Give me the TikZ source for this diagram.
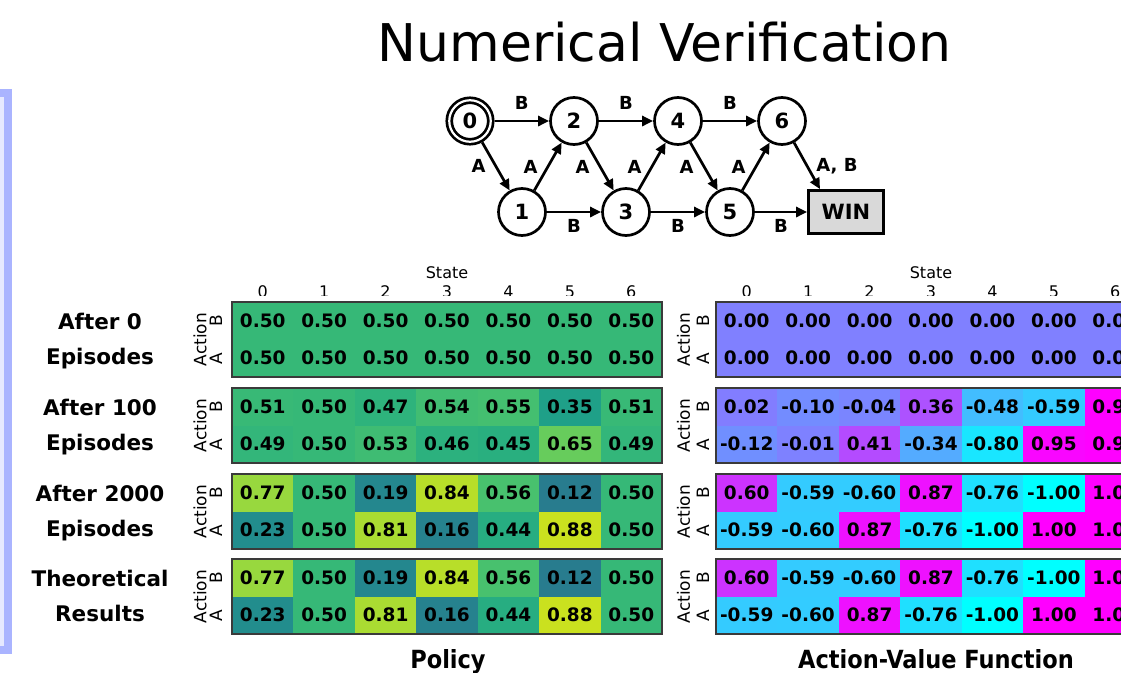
\documentclass[tikz,border=0pt]{standalone}
\usepackage{fontspec}
\setmainfont{DejaVu Sans}
\newfontfamily\condfont{DejaVu Sans Condensed}
\usetikzlibrary{arrows.meta}
\definecolor{panelborder}{HTML}{AAB4FF}
\definecolor{panelfill}{HTML}{E6E9FF}
\definecolor{boxline}{HTML}{3A3A3A}
\definecolor{winfill}{HTML}{D9D9D9}
\definecolor{qlo}{rgb}{0,1,1}
\definecolor{qhi}{rgb}{1,0,1}
\definecolor{pv50}{HTML}{36B877}
\definecolor{pv51}{HTML}{38B976}
\definecolor{pv49}{HTML}{33B67A}
\definecolor{pv47}{HTML}{2EB37C}
\definecolor{pv53}{HTML}{3FBC73}
\definecolor{pv54}{HTML}{41BD72}
\definecolor{pv46}{HTML}{2CB17E}
\definecolor{pv55}{HTML}{44BF70}
\definecolor{pv45}{HTML}{29AF7F}
\definecolor{pv35}{HTML}{1FA088}
\definecolor{pv65}{HTML}{67CC5C}
\definecolor{pv77}{HTML}{98D83E}
\definecolor{pv23}{HTML}{228D8D}
\definecolor{pv19}{HTML}{24878E}
\definecolor{pv81}{HTML}{AADC32}
\definecolor{pv84}{HTML}{B8DE29}
\definecolor{pv16}{HTML}{26828E}
\definecolor{pv56}{HTML}{48C16E}
\definecolor{pv44}{HTML}{27AD81}
\definecolor{pv12}{HTML}{287C8E}
\definecolor{pv88}{HTML}{CAE11F}
\tikzset{
  state/.style={circle, draw=black, line width=2.7pt, minimum size=47pt, inner sep=0pt, fill=white, font=\bfseries\fontsize{21}{23}\selectfont},
  startstate/.style={state, double, double distance=2.2pt, minimum size=41.5pt, outer sep=3.8pt},
  winbox/.style={rectangle, draw=black, line width=2.7pt, fill=winfill, minimum width=75pt, minimum height=43pt, inner sep=0pt, font=\bfseries\fontsize{21}{23}\selectfont},
  edge/.style={line width=2.7pt, -{Triangle[length=11pt,width=10pt]}},
  elabel/.style={font=\bfseries\fontsize{18}{19}\selectfont, inner sep=0pt},
  cell/.style={rectangle, minimum width=61.43pt, minimum height=37.5pt, inner sep=0pt, font=\bfseries\fontsize{18.5}{19}\selectfont},
  heatframe/.style={draw=boxline, line width=1.5pt},
  axislabel/.style={font=\fontsize{16}{17}\selectfont, inner sep=0pt},
  rowlabel/.style={font=\bfseries\fontsize{21.5}{23}\selectfont, inner sep=0pt, anchor=base},
  sidelabel/.style={font=\fontsize{17}{18}\selectfont, inner sep=0pt, rotate=90},
  footlabel/.style={font=\condfont\bfseries\fontsize{25}{28}\selectfont, inner sep=0pt, anchor=base},
}
% policy box: #1 top, #2 prefix, #3 B list, #4 A list
\newcommand\polbox[4]{%
  \foreach \v [count=\i from 0] in {#3} {
    \node[cell, fill=pv\v] (#2B\i) at ({232+61.43*(\i+0.5)}, {#1+18.75}) {0.\v};
  }
  \foreach \v [count=\i from 0] in {#4} {
    \node[cell, fill=pv\v] (#2A\i) at ({232+61.43*(\i+0.5)}, {#1+56.25}) {0.\v};
  }
  \draw[heatframe] (232,#1) rectangle (662,{#1+75});
  \node[sidelabel] (#2act) at (200,{#1+37.5}) {Action};
  \node[sidelabel] (#2lb) at (216,{#1+18.75}) {B};
  \node[sidelabel] (#2la) at (216,{#1+56.25}) {A};
}
% action-value box
\newcommand\qbox[4]{%
  \foreach \v [count=\i from 0] in {#3} {
    \pgfmathsetmacro\pp{50*(\v+1)}
    \node[cell, fill=qhi!\pp!qlo] (#2B\i) at ({716+61.43*(\i+0.5)}, {#1+18.75}) {\v};
  }
  \foreach \v [count=\i from 0] in {#4} {
    \pgfmathsetmacro\pp{50*(\v+1)}
    \node[cell, fill=qhi!\pp!qlo] (#2A\i) at ({716+61.43*(\i+0.5)}, {#1+56.25}) {\v};
  }
  \draw[heatframe] (716,#1) rectangle (1146,{#1+75});
  \node[sidelabel] (#2act) at (683.5,{#1+37.5}) {Action};
  \node[sidelabel] (#2lb) at (703,{#1+18.75}) {B};
  \node[sidelabel] (#2la) at (703,{#1+56.25}) {A};
}
\begin{document}
\begin{tikzpicture}[x=1pt,y=-1pt]
\useasboundingbox (0,0) rectangle (1121,672);
\clip (0,0) rectangle (1121,672);
% left panel
\draw[draw=panelborder, fill=panelfill, line width=8pt] (-20,93) rectangle (8,650);
% title
\node[font=\fontsize{52}{60}\selectfont, anchor=base, inner sep=0pt] (title) at (664.5,61.5) {Numerical Verification};
% state graph
\node[startstate] (n0) at (470,121) {0};
\node[state] (n2) at (574,121) {2};
\node[state] (n4) at (678,121) {4};
\node[state] (n6) at (782,121) {6};
\node[state] (n1) at (522,212) {1};
\node[state] (n3) at (626,212) {3};
\node[state] (n5) at (730,212) {5};
\node[winbox] (win) at (846,212) {WIN};
\draw[edge] (n0) -- node[elabel, above=10pt] {B} (n2);
\draw[edge] (n2) -- node[elabel, above=10pt] {B} (n4);
\draw[edge] (n4) -- node[elabel, above=10pt] {B} (n6);
\draw[edge] (n1) -- node[elabel, below=6pt] {B} (n3);
\draw[edge] (n3) -- node[elabel, below=6pt] {B} (n5);
\draw[edge] (n5) -- node[elabel, below=6pt] {B} (win);
\draw[edge] (n0) -- node[elabel, left=9pt] {A} (n1);
\draw[edge] (n1) -- node[elabel, left=9pt] {A} (n2);
\draw[edge] (n2) -- node[elabel, left=9pt] {A} (n3);
\draw[edge] (n3) -- node[elabel, left=9pt] {A} (n4);
\draw[edge] (n4) -- node[elabel, left=9pt] {A} (n5);
\draw[edge] (n5) -- node[elabel, left=9pt] {A} (n6);
\draw[edge] (n6) -- node[elabel, right=8pt] {A, B} ([xshift=-26pt]win.north);
% axis titles
\node[axislabel, anchor=base] (pstate) at (447,278) {State};
\node[axislabel, anchor=base] (qstate) at (931,278) {State};
\begin{scope}
\clip (0,250) rectangle (1121,295.5);
\foreach \k in {0,...,6} {
  \node[axislabel, anchor=base] (pt\k) at ({232+61.43*(\k+0.5)},297) {\k};
  \node[axislabel, anchor=base] (qt\k) at ({716+61.43*(\k+0.5)},297) {\k};
}
\end{scope}
% policy boxes
\polbox{302}{pa}{50,50,50,50,50,50,50}{50,50,50,50,50,50,50}
\polbox{388}{pb}{51,50,47,54,55,35,51}{49,50,53,46,45,65,49}
\polbox{474}{pc}{77,50,19,84,56,12,50}{23,50,81,16,44,88,50}
\polbox{559}{pd}{77,50,19,84,56,12,50}{23,50,81,16,44,88,50}
% action-value boxes
\qbox{302}{qa}{0.00,0.00,0.00,0.00,0.00,0.00,0.00}{0.00,0.00,0.00,0.00,0.00,0.00,0.00}
\qbox{388}{qb}{0.02,-0.10,-0.04,0.36,-0.48,-0.59,0.99}{-0.12,-0.01,0.41,-0.34,-0.80,0.95,0.99}
\qbox{474}{qc}{0.60,-0.59,-0.60,0.87,-0.76,-1.00,1.00}{-0.59,-0.60,0.87,-0.76,-1.00,1.00,1.00}
\qbox{559}{qd}{0.60,-0.59,-0.60,0.87,-0.76,-1.00,1.00}{-0.59,-0.60,0.87,-0.76,-1.00,1.00,1.00}
% row titles
\node[rowlabel] (r1a) at (100,329) {After 0};
\node[rowlabel] (r1b) at (100,364) {Episodes};
\node[rowlabel] (r2a) at (100,415) {After 100};
\node[rowlabel] (r2b) at (100,450) {Episodes};
\node[rowlabel] (r3a) at (100,501) {After 2000};
\node[rowlabel] (r3b) at (100,536) {Episodes};
\node[rowlabel] (r4a) at (100,586) {Theoretical};
\node[rowlabel] (r4b) at (100,621) {Results};
% footers
\node[footlabel] (fpol) at (448,668) {Policy};
\node[footlabel] (fq) at (936,668) {Action-Value Function};
\end{tikzpicture}
\end{document}
